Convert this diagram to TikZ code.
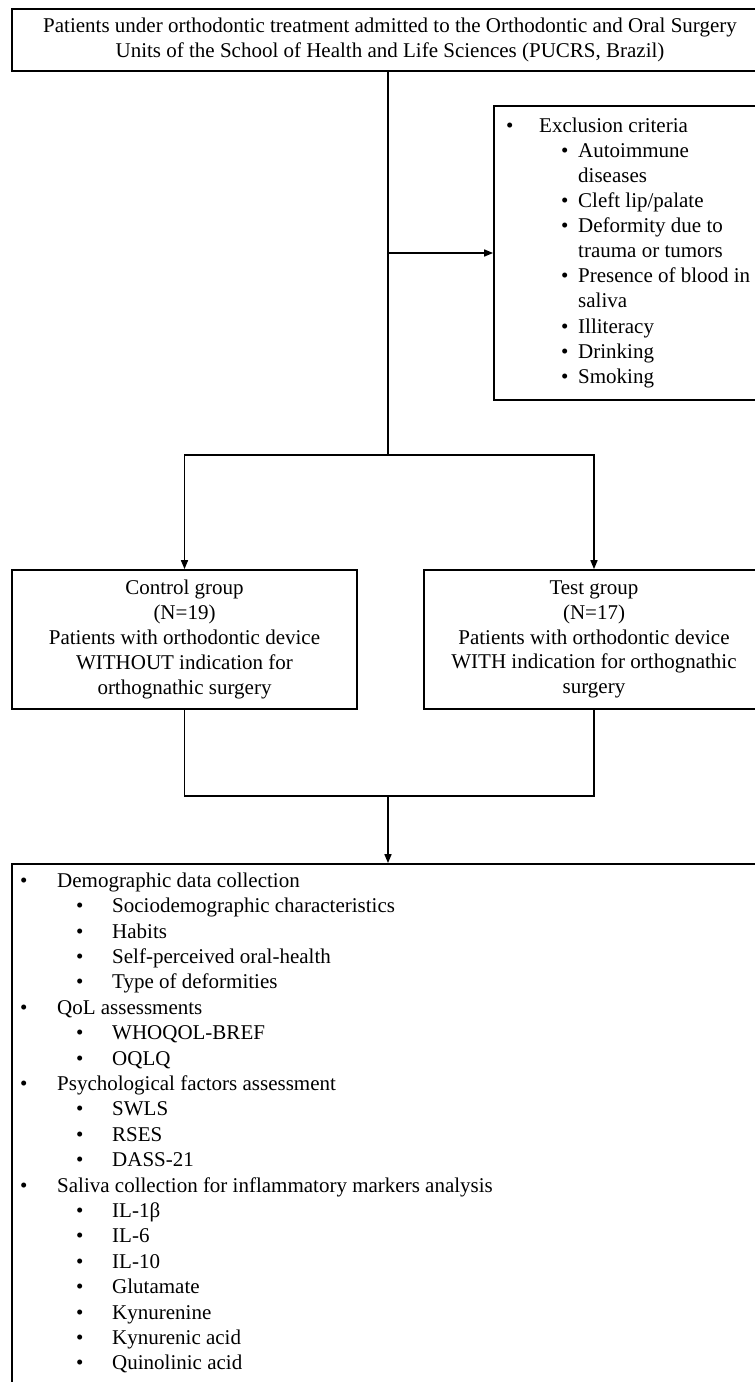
\documentclass[tikz,border=0pt]{standalone}
\usepackage{fontspec}
\setmainfont{Liberation Serif}
\usetikzlibrary{arrows.meta}
\newcommand\exmain[1]{\makebox[33pt][l]{\textbullet}#1}
\newcommand\exsub[1]{\hspace*{55pt}\makebox[17pt][l]{\textbullet}#1}
\newcommand\excont[1]{\hspace*{72pt}#1}
\newcommand\btmain[1]{\makebox[37pt][l]{\textbullet}#1}
\newcommand\btsub[1]{\hspace*{56pt}\makebox[36pt][l]{\textbullet}#1}
\begin{document}
\begin{tikzpicture}[x=1pt,y=-1pt,
  box/.style={draw, line width=1.8pt, rectangle, inner sep=0pt, align=center,
    font=\fontsize{21pt}{24.8pt}\selectfont},
  conn/.style={line width=1.6pt},
  arr/.style={conn, -{Triangle[length=9pt,width=7pt]}},
  list/.style={inner sep=0pt, anchor=north west, align=left},
  exfont/.style={font=\fontsize{21pt}{25.1pt}\selectfont},
  btfont/.style={font=\fontsize{21pt}{25.4pt}\selectfont}]
\useasboundingbox (0,0) rectangle (755,1382);
\clip (0,0) rectangle (755,1382);

\node[box, minimum width=756pt, minimum height=62pt] (top) at (390,40)
  {Patients under orthodontic treatment admitted to the Orthodontic and Oral Surgery\\
   Units of the School of Health and Life Sciences (PUCRS, Brazil)};

\node[box, minimum width=276pt, minimum height=294pt] (excl) at (632,253) {};
\node[list, exfont] (excltext) at (506,115)
  {\rule{0pt}{17pt}\exmain{Exclusion criteria}\\
   \exsub{Autoimmune}\\
   \excont{diseases}\\
   \exsub{Cleft lip/palate}\\
   \exsub{Deformity due to}\\
   \excont{trauma or tumors}\\
   \exsub{Presence of blood in}\\
   \excont{saliva}\\
   \exsub{Illiteracy}\\
   \exsub{Drinking}\\
   \exsub{Smoking}};

\node[box, minimum width=345pt, minimum height=139pt] (ctrl) at (184.5,639.5)
  {Control group\\(N=19)\\Patients with orthodontic device\\WITHOUT indication for\\orthognathic surgery};
\node[box, minimum width=340pt, minimum height=139pt] (test) at (594,639.5)
  {Test group\\(N=17)\\Patients with orthodontic device\\WITH indication for orthognathic\\surgery};

\node[box, minimum width=756pt, minimum height=540pt] (bottom) at (390,1134) {};
\node[list, btfont] (btext) at (20,870)
  {\rule{0pt}{17pt}\btmain{Demographic data collection}\\
   \btsub{Sociodemographic characteristics}\\
   \btsub{Habits}\\
   \btsub{Self-perceived oral-health}\\
   \btsub{Type of deformities}\\
   \btmain{QoL assessments}\\
   \btsub{WHOQOL-BREF}\\
   \btsub{OQLQ}\\
   \btmain{Psychological factors assessment}\\
   \btsub{SWLS}\\
   \btsub{RSES}\\
   \btsub{DASS-21}\\
   \btmain{Saliva collection for inflammatory markers analysis}\\
   \btsub{IL-1β}\\
   \btsub{IL-6}\\
   \btsub{IL-10}\\
   \btsub{Glutamate}\\
   \btsub{Kynurenine}\\
   \btsub{Kynurenic acid}\\
   \btsub{Quinolinic acid}};

\coordinate (j1) at (388,253);
\coordinate (j2) at (388,455);
\coordinate (j3) at (388,796);

\draw[conn] (top.south -| j2) -- (j2);
\draw[arr] (j1) -- (excl.west);
\draw[arr] (j2) -| (ctrl.north);
\draw[arr] (j2) -| (test.north);
\draw[conn] (ctrl.south) |- (j3);
\draw[conn] (test.south) |- (j3);
\draw[arr] (j3) -- (j3 |- bottom.north);
\end{tikzpicture}
\end{document}
